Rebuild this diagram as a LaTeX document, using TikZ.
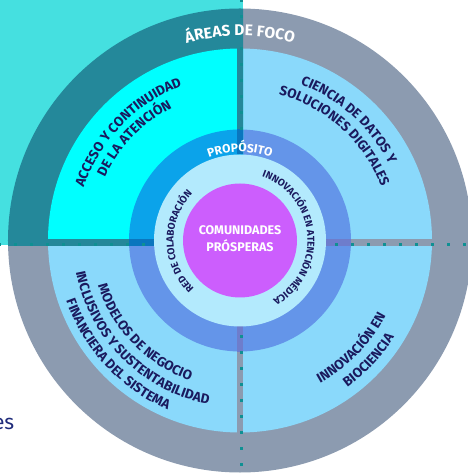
\documentclass[tikz,border=0pt]{standalone}
\usepackage{fontspec}
\setmainfont{Fira Sans}
\usetikzlibrary{decorations.text}

% colours of the wheel
\definecolor{ringgray}{HTML}{8C9BB0}
\definecolor{areablue}{HTML}{8AD9FB}
\definecolor{purpblue}{HTML}{6495E9}
\definecolor{innerblue}{HTML}{B3EAFD}
\definecolor{coremag}{HTML}{CC5EFD}
\definecolor{bandpurp}{HTML}{6E7DCC}
% highlighted quadrant
\definecolor{hlback}{HTML}{45E0E0}
\definecolor{hlring}{HTML}{24889A}
\definecolor{hlarea}{HTML}{00FFFF}
\definecolor{hlpurp}{HTML}{0BA3EA}
\definecolor{hlband}{HTML}{0A76BE}
\definecolor{navytext}{HTML}{1A1A5E}
\definecolor{dotteal}{HTML}{0F9093}
\definecolor{esblue}{HTML}{1F2B7A}

\newcommand\quadfont{\fontsize{13.5}{13.5}\selectfont\bfseries\color{navytext}}
\newcommand\ringfont{\fontsize{10}{10}\selectfont\bfseries\color{navytext}}
\newcommand\whitefont{\bfseries\color{white}}

\tikzset{
  arctext/.style={decorate, decoration={text along path, text align=center, text={#1}}},
}

\begin{document}
\begin{tikzpicture}[x=1pt,y=1pt]

    % Define parameters
    \def\rcore{57}    % magenta core
    \def\rin{86}      % inner light ring
    \def\rpur{111}    % purpose ring
    \def\rarea{192}   % focus areas
    \def\rout{232}    % outer grey ring

    \useasboundingbox (-240,-232.5) rectangle (227,240.5);

    % base wheel
    \fill[ringgray] (0,0) circle (\rout);
    \fill[areablue] (0,0) circle (\rarea);
    \fill[purpblue] (0,0) circle (\rpur);

    % dividing bands
    \fill[bandpurp] (\rin,-5.5) rectangle (\rpur,1);
    \fill[bandpurp] (-\rpur,-5.5) rectangle (-\rin,1);
    \fill[bandpurp] (-3,-\rin) rectangle (3,-\rpur);
    \fill[ringgray] (\rpur,-5.5) rectangle (\rout-1,1);
    \fill[ringgray] (-\rout+1,-5.5) rectangle (-\rpur,1);
    \fill[ringgray] (-3,-\rpur) rectangle (3,-\rout+1);

    % highlighted quadrant
    \begin{scope}
        \clip (-240,-5) rectangle (3,240.5);
        \fill[hlback] (-240,-5) rectangle (3,240.5);
        \fill[hlring] (0,0) circle (\rout);
        \fill[hlarea] (0,0) circle (\rarea);
        \fill[hlpurp] (0,0) circle (\rpur);
        \fill[hlband] (-\rpur,-5.5) rectangle (-\rin,1);
        \fill[hlband] (-3,\rin) rectangle (3,\rpur);
        \fill[hlring] (-\rout+1,-5.5) rectangle (-\rpur,1);
        \fill[hlring] (-3,\rpur) rectangle (3,\rout-1);
    \end{scope}

    % inner rings
    \fill[innerblue] (0,0) circle (\rin);
    \fill[coremag] (0,0) circle (\rcore);

    % dotted lines
    \foreach \d in {96,112,...,240} {
        \fill[dotteal] (\d-1.5,-5.7) rectangle ++(3,3);
        \fill[dotteal] (-\d-1.5,-5.7) rectangle ++(3,3);
        \fill[dotteal] (-0.5,\d-1.5) rectangle ++(3,3);
        \fill[dotteal] (-0.5,-\d-1.5) rectangle ++(3,3);
    }

    % ring labels
    \path[arctext={|\fontsize{15.5}{15.5}\selectfont\whitefont|ÁREAS DE FOCO}] (150:204.5) arc[start angle=150, end angle=30, radius=204.5];
    \path[arctext={|\fontsize{12}{12}\selectfont\whitefont|PROPÓSITO}] (150:88.5) arc[start angle=150, end angle=30, radius=88.5];
    \path[arctext={|\ringfont|INNOVACIÓN EN ATENCIÓN MÉDICA}] (100:67.5) arc[start angle=100, end angle=-90, radius=67.5];
    \path[arctext={|\ringfont|RED DE COLABORACIÓN}] (270:66.5) arc[start angle=270, end angle=92, radius=66.5];

    % focus area labels
    \path[arctext={|\quadfont|ACCESO Y CONTINUIDAD}] (196:165) arc[start angle=196, end angle=76, radius=165];
    \path[arctext={|\quadfont|DE LA ATENCIÓN}] (196:149) arc[start angle=196, end angle=76, radius=149];
    \path[arctext={|\quadfont|CIENCIA DE DATOS Y}] (108:167.5) arc[start angle=108, end angle=-12, radius=167.5];
    \path[arctext={|\quadfont|SOLUCIONES DIGITALES}] (108:151) arc[start angle=108, end angle=-12, radius=151];
    \path[arctext={|\quadfont|MODELOS DE NEGOCIO}] (164:149) arc[start angle=164, end angle=284, radius=149];
    \path[arctext={|\quadfont|INCLUSIVOS Y SUSTENTABILIDAD}] (165:167) arc[start angle=165, end angle=285, radius=167];
    \path[arctext={|\quadfont|FINANCIERA DEL SISTEMA}] (163:184) arc[start angle=163, end angle=283, radius=184];
    \path[arctext={|\quadfont|INNOVACIÓN EN}] (-104:164) arc[start angle=-104, end angle=16, radius=164];
    \path[arctext={|\quadfont|BIOCIENCIA}] (-103:182) arc[start angle=-103, end angle=17, radius=182];

    % core label
    \node[align=center, text=white, font=\fontsize{12.5}{17}\selectfont\bfseries] (core) at (0,2) {COMUNIDADES\\PRÓSPERAS};

    % cut off word at the left
    \node[anchor=base east, inner sep=0pt, text=esblue, font=\fontsize{21}{21}\selectfont] (esfrag) at (-225.5,-188.5) {es};

\end{tikzpicture}
\end{document}
